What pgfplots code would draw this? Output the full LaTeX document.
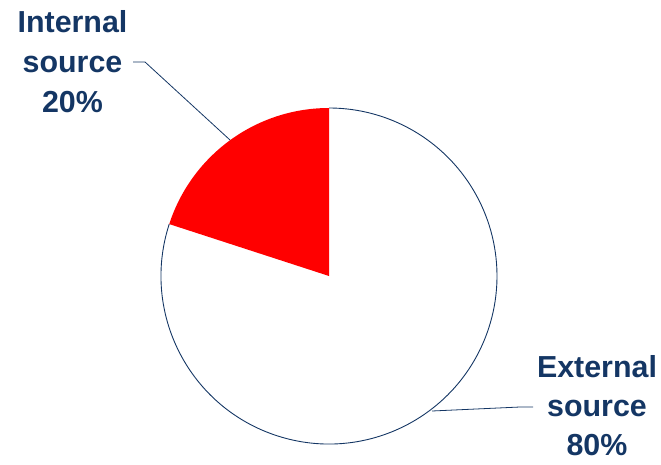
\documentclass[border=0pt]{standalone}
\usepackage{pgfplots}
\usepackage{pgfplotstable}
\pgfplotsset{compat=1.18}
\usepackage{fontspec}
\setmainfont{Liberation Sans}
\definecolor{navy}{RGB}{20,54,100}
\definecolor{pied}{RGB}{255,0,0}
\pgfplotstableread{
label value
Internal 20
External 80
}\piedata
\begin{document}
\begin{tikzpicture}
\pgfplotstablegetelem{0}{value}\of\piedata
\pgfmathsetmacro{\intval}{\pgfplotsretval}
\pgfmathsetmacro{\endang}{90+3.6*\intval}
\begin{axis}[
  width=661bp, height=461bp, scale only axis,
  xmin=0, xmax=661, ymin=0, ymax=461,
  hide axis, clip=false,
]
\path (axis cs:0,0) rectangle (axis cs:661,461);
% white (external) sector outline
\draw[navy, line width=0.9pt] (axis cs:329,185) ++(\endang:168bp) arc[start angle=\endang, end angle=450, radius=168bp];
% red (internal) sector
\fill[pied] (axis cs:329,185) -- ++(90:168bp) arc[start angle=90, end angle=\endang, radius=168bp] -- cycle;
% leader lines
\draw[navy, line width=0.8pt] (axis cs:133,399) -- (axis cs:145,399) -- (axis cs:230,321);
\draw[navy, line width=0.8pt] (axis cs:432,50) -- (axis cs:520,54) -- (axis cs:533,54);
% labels
\begin{scope}[every node/.style={anchor=base, inner sep=0, text=navy, font=\fontsize{30.5}{40}\selectfont\bfseries}]
\node at (axis cs:72.5,428) {Internal};
\node at (axis cs:72.5,388) {source};
\node at (axis cs:72.5,348) {20\%};
\node at (axis cs:597,84) {External};
\node at (axis cs:597,45) {source};
\node at (axis cs:597,6) {80\%};
\end{scope}
\end{axis}
\end{tikzpicture}
\end{document}
